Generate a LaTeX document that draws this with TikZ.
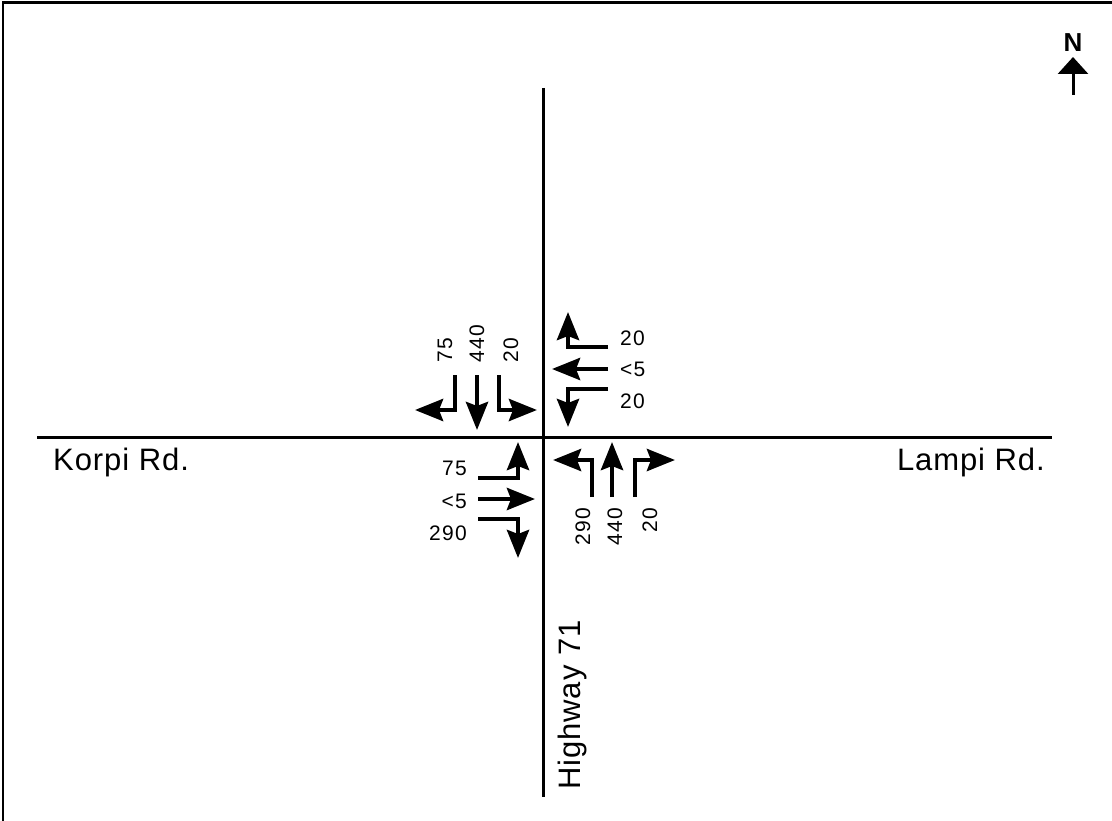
\documentclass[tikz,border=0pt]{standalone}
\usepackage{fontspec}
\setmainfont{Liberation Sans}
\newfontfamily\volfont[LetterSpace=6]{Liberation Sans}
\newfontfamily\roadfont[LetterSpace=3]{Liberation Sans}
\usetikzlibrary{arrows.meta}
\begin{document}
\begin{tikzpicture}[x=1pt,y=-1pt,
  road/.style={line width=3pt},
  frame/.style={line width=2.5pt},
  mv/.style={line width=4.5pt, line join=miter, -{Stealth[length=28pt,width=22pt,inset=4pt]}},
  vol/.style={font=\volfont\fontsize{21}{24}\selectfont, inner sep=0pt},
  rname/.style={font=\roadfont\fontsize{31}{36}\selectfont, inner sep=0pt},
]
\useasboundingbox (0,0) rectangle (1112,821);
% frame (left and top edges)
\coordinate (fb) at (3,821);
\coordinate (fc) at (3,2.5);
\coordinate (fr) at (1112,2.5);
\draw[frame] (fb) -- (fc) -- (fr);
% roads
\coordinate (rw) at (37,437);
\coordinate (re) at (1052,437);
\coordinate (rn) at (543,88);
\coordinate (rs) at (543,797);
\draw[road] (rw) -- (re);
\draw[road] (rn) -- (rs);
% road names
\node[rname, anchor=base west] (korpi) at (53,470) {Korpi Rd.};
\node[rname, anchor=base east] (lampi) at (1045,470) {Lampi Rd.};
\node[rname, rotate=90, anchor=base west] (hwy) at (580,790) {Highway 71};
% north arrow
\node[font=\bfseries\fontsize{26}{30}\selectfont, inner sep=0pt, anchor=base] (north) at (1073,52) {N};
\coordinate (ns) at (1073,95);
\coordinate (nt) at (1073,57);
\draw[line width=3pt, -{Triangle[length=17pt,width=30pt]}] (ns) -- (nt);
% NW approach (southbound)
\coordinate (a1s) at (455,375); \coordinate (a1e) at (415,410);
\coordinate (a2s) at (477,375); \coordinate (a2e) at (477,430);
\coordinate (a3s) at (499,375); \coordinate (a3e) at (537,410);
\draw[mv] (a1s) |- (a1e);
\draw[mv] (a2s) -- (a2e);
\draw[mv] (a3s) |- (a3e);
\node[vol, rotate=90, anchor=base west] (v1) at (452,363) {75};
\node[vol, rotate=90, anchor=base west] (v2) at (484,363) {440};
\node[vol, rotate=90, anchor=base west] (v3) at (518,363) {20};
% NE approach (westbound)
\coordinate (b1s) at (608,347); \coordinate (b1e) at (568,312);
\coordinate (b2s) at (608,369); \coordinate (b2e) at (552,369);
\coordinate (b3s) at (608,389); \coordinate (b3e) at (568,427);
\draw[mv] (b1s) -| (b1e);
\draw[mv] (b2s) -- (b2e);
\draw[mv] (b3s) -| (b3e);
\node[vol, anchor=base west] (w1) at (620,345) {20};
\node[vol, anchor=base west] (w2) at (620,376) {<5};
\node[vol, anchor=base west] (w3) at (620,408) {20};
% SW approach (eastbound)
\coordinate (c1s) at (478,478); \coordinate (c1e) at (518,442);
\coordinate (c2s) at (478,499); \coordinate (c2e) at (535,499);
\coordinate (c3s) at (478,519); \coordinate (c3e) at (518,558);
\draw[mv] (c1s) -| (c1e);
\draw[mv] (c2s) -- (c2e);
\draw[mv] (c3s) -| (c3e);
\node[vol, anchor=base east] (e1) at (467,475) {75};
\node[vol, anchor=base east] (e2) at (467,508) {<5};
\node[vol, anchor=base east] (e3) at (467,540) {290};
% SE approach (northbound)
\coordinate (d1s) at (592,497); \coordinate (d1e) at (553,460);
\coordinate (d2s) at (612,497); \coordinate (d2e) at (612,442);
\coordinate (d3s) at (635,497); \coordinate (d3e) at (675,460);
\draw[mv] (d1s) |- (d1e);
\draw[mv] (d2s) -- (d2e);
\draw[mv] (d3s) |- (d3e);
\node[vol, rotate=90, anchor=base east] (s1) at (590,508) {290};
\node[vol, rotate=90, anchor=base east] (s2) at (622,508) {440};
\node[vol, rotate=90, anchor=base east] (s3) at (657,508) {20};
\end{tikzpicture}
\end{document}
